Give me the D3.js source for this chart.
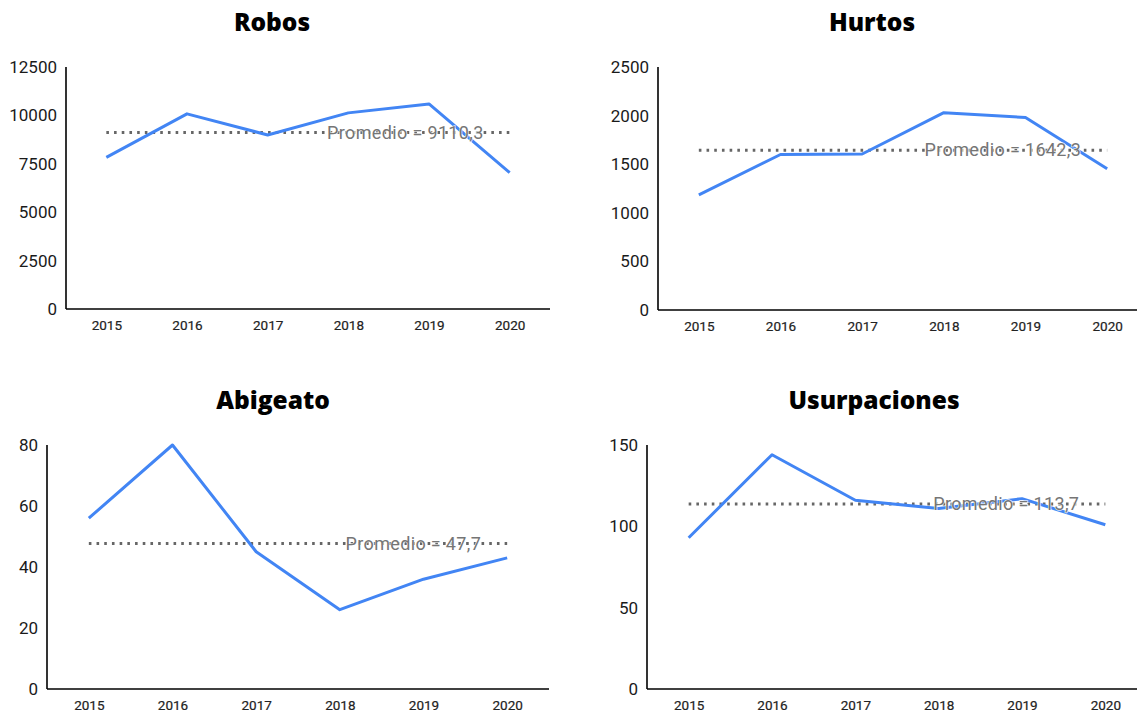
<!DOCTYPE html>
<html>
<head>
<meta charset="utf-8">
<script src="https://cdn.jsdelivr.net/npm/d3@7"></script>
<style>
  html, body { margin:0; padding:0; background:#fff; }
  svg text { font-family: Roboto, "Noto Sans", sans-serif; }
  .title { font-family: "Open Sans", "Noto Sans", sans-serif; font-weight:800; }
</style>
</head>
<body>
<div id="chart"></div>
<script>
// data
const years = ["2015","2016","2017","2018","2019","2020"];
const titles = ["Robos","Hurtos","Abigeato","Usurpaciones"];
const robos = [7830, 10080, 8990, 10130, 10590, 7042];
const hurtos = [1185, 1600, 1605, 2030, 1980, 1454];
const abigeato = [56, 80, 45, 26, 36, 43];
const usurpaciones = [93, 144, 116, 111, 117, 101];
const promedios = [9110.3, 1642.3, 47.7, 113.7];
const yTicksRobos = [0, 2500, 5000, 7500, 10000, 12500];
const yTicksHurtos = [0, 500, 1000, 1500, 2000, 2500];
const yTicksAbigeato = [0, 20, 40, 60, 80];
const yTicksUsurp = [0, 50, 100, 150];

const series = [robos, hurtos, abigeato, usurpaciones];
const yTicks = [yTicksRobos, yTicksHurtos, yTicksAbigeato, yTicksUsurp];

// layout of each panel (pixel boxes)
const boxes = [
  {x0:66,  x1:550,  top:67,  bottom:309, titleX:272, titleY:31},
  {x0:658, x1:1148, top:67,  bottom:310, titleX:872, titleY:31},
  {x0:47,  x1:549,  top:445, bottom:689, titleX:273, titleY:409},
  {x0:647, x1:1147, top:445, bottom:689, titleX:874, titleY:409}
];

const W = 1137, H = 713;
const svg = d3.select("#chart").append("svg")
  .attr("width", W).attr("height", H)
  .attr("viewBox", [0,0,W,H]);

const fmt = v => "Promedio = " + v.toFixed(1).replace(".", ",");

series.forEach((vals, i) => {
  const b = boxes[i];
  const ticks = yTicks[i];
  const x = d3.scalePoint().domain(years).range([b.x0, b.x1]).padding(0.5);
  const y = d3.scaleLinear().domain([0, d3.max(ticks)]).range([b.bottom, b.top]);
  const g = svg.append("g");

  g.append("text").attr("class","title")
    .attr("x", b.titleX).attr("y", b.titleY)
    .attr("text-anchor","middle")
    .attr("font-size", 24.5).attr("fill","#000")
    .text(titles[i]);

  // y axis
  const ya = g.append("g").attr("transform", `translate(${b.x0},0)`)
    .call(d3.axisLeft(y).tickValues(ticks).tickSize(0).tickPadding(9).tickFormat(d3.format("d")));
  ya.select(".domain").attr("stroke","#000").attr("stroke-width",1.6).attr("d", `M0,${b.top}V${b.bottom}`);
  ya.selectAll("text").attr("font-size",17).attr("fill","#1a1a1a")
    .attr("font-family","Roboto, sans-serif");

  // x axis
  const xa = g.append("g").attr("transform", `translate(0,${b.bottom})`)
    .call(d3.axisBottom(x).tickSize(0).tickPadding(11));
  xa.select(".domain").attr("stroke","#000").attr("stroke-width",1.6).attr("d", `M${b.x0},0H${b.x1}`);
  xa.selectAll("text").attr("font-size",13.5).attr("fill","#222")
    .attr("stroke","#222").attr("stroke-width",0.2)
    .attr("font-family","Roboto, sans-serif");

  // average line
  const avg = promedios[i];
  g.append("line")
    .attr("x1", x(years[0])).attr("x2", x(years[years.length-1]))
    .attr("y1", y(avg)).attr("y2", y(avg))
    .attr("stroke","#666").attr("stroke-width",3)
    .attr("stroke-dasharray","2.6 5.1");

  // series line
  g.append("path").datum(vals)
    .attr("fill","none").attr("stroke","#4285F4").attr("stroke-width",3)
    .attr("stroke-linejoin","round")
    .attr("d", d3.line().x((d,j)=>x(years[j])).y(d=>y(d)));

  // average label
  g.append("text")
    .attr("x", x(years[years.length-1]) - 26).attr("y", y(avg) + 6)
    .attr("text-anchor","end")
    .attr("font-size",18).attr("letter-spacing",0.35).attr("fill","#757575")
    .attr("stroke","#fff").attr("stroke-width",1.5).attr("paint-order","stroke")
    .attr("stroke-opacity",0.8)
    .text(fmt(avg));
});
</script>
</body>
</html>
